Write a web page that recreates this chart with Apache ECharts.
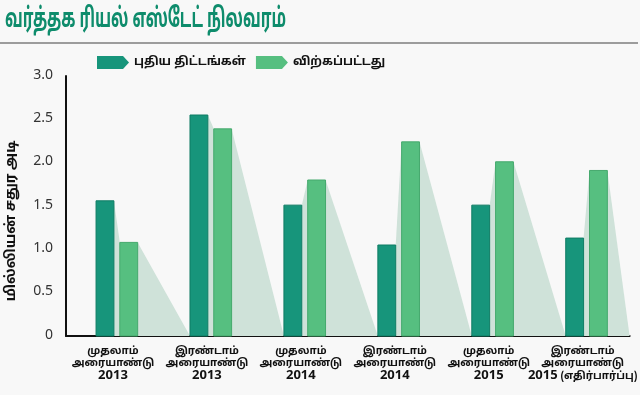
<!DOCTYPE html>
<html>
<head>
<meta charset="utf-8">
<script src="https://cdn.jsdelivr.net/npm/echarts@6/dist/echarts.min.js"></script>
<style>
html,body{margin:0;padding:0;background:#f8f8f8;}
#c{width:640px;height:395px;}
</style>
</head>
<body>
<div id="c"></div>
<script>
var titleText = 'வர்த்தக ரியல் எஸ்டேட் நிலவரம்';
var yAxisName = 'மில்லியன் சதுர அடி';
var seriesNames = ['புதிய திட்டங்கள்', 'விற்கப்பட்டது'];
var categories = [
  'முதலாம்\nஅரையாண்டு\n2013',
  'இரண்டாம்\nஅரையாண்டு\n2013',
  'முதலாம்\nஅரையாண்டு\n2014',
  'இரண்டாம்\nஅரையாண்டு\n2014',
  'முதலாம்\nஅரையாண்டு\n2015',
  'இரண்டாம்\nஅரையாண்டு\n2015 (எதிர்பார்ப்பு)'
];
var newProjects = [1.56, 2.55, 1.51, 1.05, 1.51, 1.13];
var sold = [1.08, 2.39, 1.80, 2.24, 2.01, 1.91];
var yTicks = [0, 0.5, 1.0, 1.5, 2.0, 2.5, 3.0];

var DARK = '#17957b', DARK_B = '#0f7c64';
var LIGHT = '#56bf80', LIGHT_B = '#45a96d';
var SHADOW = '#cfe2d9';
var FONT = "'Noto Sans Tamil', 'Noto Sans', sans-serif";

var chart = echarts.init(document.getElementById('c'));

function barGeom(api, i) {
  var base = api.coord([i, 0]);
  var bw = api.size([1, 0])[0];
  return {c: base[0], y0: base[1], bw: bw};
}

function renderBar(which) {
  return function (params, api) {
    var i = api.value(0);
    var v = api.value(1);
    var g = barGeom(api, i);
    var top = api.coord([i, v])[1];
    var left = which === 0 ? g.c - 0.18 * g.bw : g.c + 0.073 * g.bw;
    var w = 0.19 * g.bw;
    return {
      type: 'rect',
      shape: {x: left, y: top, width: w, height: g.y0 - top},
      style: {fill: which === 0 ? DARK : LIGHT, stroke: which === 0 ? DARK_B : LIGHT_B, lineWidth: 1}
    };
  };
}

function renderShadow(params, api) {
  var i = api.value(0);
  var d = api.value(1);
  var s = api.value(2);
  var g = barGeom(api, i);
  var dTop = api.coord([i, d])[1];
  var sTop = api.coord([i, s])[1];
  var dRight = g.c - 0.18 * g.bw + 0.19 * g.bw;
  var sLeft = g.c + 0.073 * g.bw;
  var sRight = sLeft + 0.19 * g.bw;
  var end = g.c + g.bw - 0.18 * g.bw;
  var gridRight = params.coordSys.x + params.coordSys.width;
  if (end > gridRight) end = gridRight;
  return {
    type: 'polygon',
    shape: {points: [[dRight, dTop], [sLeft, sTop], [sRight, sTop], [end, g.y0], [dRight, g.y0]]},
    style: {fill: SHADOW}
  };
}

var shadowData = categories.map(function (c, i) { return [i, newProjects[i], sold[i]]; });

var legendIcon = 'path://M0,0 L26,0 L32,6.5 L26,13 L0,13 Z';

chart.setOption({
  backgroundColor: '#f8f8f8',
  animation: false,
  graphic: [
    {
      type: 'text', left: 5, top: 8, scaleX: 0.575,
      style: {text: titleText, font: "bold 27px " + FONT, fill: '#0e8c6c'}
    },
    {
      type: 'line', shape: {x1: 0, y1: 43, x2: 638, y2: 43},
      style: {stroke: '#9c9c9c', lineWidth: 2}
    },
    {
      type: 'text', x: 12, y: 221, rotation: Math.PI / 2,
      style: {text: yAxisName, font: "bold 14px " + FONT, fill: '#111', textAlign: 'center', textVerticalAlign: 'middle'}
    }
  ],
  legend: {
    data: [
      {name: seriesNames[0], icon: legendIcon},
      {name: seriesNames[1], icon: legendIcon}
    ],
    left: 92, top: 51,
    itemWidth: 32, itemHeight: 13, itemGap: 10,
    textStyle: {fontFamily: FONT, fontSize: 12, fontWeight: 'bold', color: '#111'}
  },
  grid: {left: 66, right: 6, top: 76, bottom: 59},
  xAxis: {
    type: 'category',
    data: categories,
    axisLine: {lineStyle: {color: '#111', width: 2}},
    axisTick: {show: false},
    axisLabel: {
      interval: 0, margin: 10,
      formatter: function (v) {
        var parts = v.split('\n');
        return parts.map(function (p, k) {
          if (k === parts.length - 1) {
            var sp = p.indexOf(' ');
            if (sp > 0) return '{y|' + p.slice(0, sp) + '}{ts| ' + p.slice(sp + 1) + '}';
            return '{y|' + p + '}';
          }
          return '{t|' + p + '}';
        }).join('\n');
      },
      rich: {
        t: {fontFamily: FONT, fontSize: 10.5, fontWeight: 'bold', color: '#111', lineHeight: 12},
        ts: {fontFamily: FONT, fontSize: 10.5, fontWeight: 'bold', color: '#111', lineHeight: 13},
        y: {fontFamily: FONT, fontSize: 13, fontWeight: 'bold', color: '#111', lineHeight: 13}
      }
    }
  },
  yAxis: {
    type: 'value',
    min: yTicks[0], max: yTicks[yTicks.length - 1], interval: 0.5,
    axisLine: {show: true, lineStyle: {color: '#111', width: 2}},
    axisTick: {show: false},
    splitLine: {show: false},
    axisLabel: {
      margin: 13, fontFamily: FONT, fontSize: 14, color: '#333',
      formatter: function (v) { return v === 0 ? '0' : v.toFixed(1); }
    }
  },
  series: [
    {
      type: 'custom', name: 'shadow', z: 1,
      renderItem: renderShadow,
      data: shadowData,
      silent: true
    },
    {
      type: 'custom', name: seriesNames[0], z: 2,
      itemStyle: {color: DARK},
      renderItem: renderBar(0),
      data: newProjects.map(function (v, i) { return [i, v]; })
    },
    {
      type: 'custom', name: seriesNames[1], z: 2,
      itemStyle: {color: LIGHT},
      renderItem: renderBar(1),
      data: sold.map(function (v, i) { return [i, v]; })
    }
  ]
});
</script>
</body>
</html>
